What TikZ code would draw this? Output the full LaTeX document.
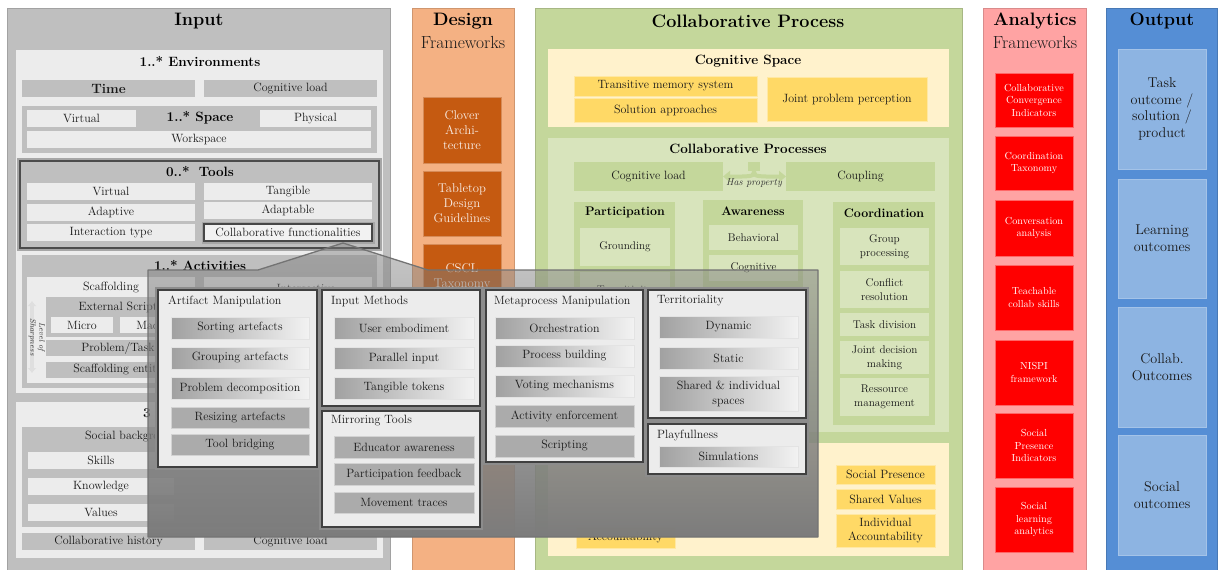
\documentclass[tikz,border=0pt]{standalone}
\usepackage{fontspec}
\usetikzlibrary{arrows.meta,fadings}
\definecolor{inbg}{HTML}{BFBFBF}
\definecolor{inlt}{HTML}{ECECEC}
\definecolor{ingr}{HTML}{BFBFBF}
\definecolor{desbg}{HTML}{F4B183}
\definecolor{desbox}{HTML}{C55A11}
\definecolor{colbg}{HTML}{C4D79B}
\definecolor{colbox}{HTML}{C4D79B}
\definecolor{collt}{HTML}{D8E4BC}
\definecolor{ylt}{HTML}{FFF2CC}
\definecolor{ybox}{HTML}{FFD966}
\definecolor{anbg}{HTML}{FFA3A3}
\definecolor{anbox}{HTML}{FF0000}
\definecolor{outbg}{HTML}{558ED5}
\definecolor{outbox}{HTML}{8DB4E2}
\definecolor{panelc}{HTML}{7C7C7C}
\tikzfading[name=panelfade, top color=transparent!58, middle color=transparent!3, bottom color=transparent!0]
\newcommand\fTitle{\fontsize{18}{21}\selectfont\bfseries}
\newcommand\fSub{\fontsize{17.5}{20}\selectfont}
\newcommand\fHead{\fontsize{13.5}{16}\selectfont\bfseries}
\newcommand\fHeadS{\fontsize{12.4}{15}\selectfont\bfseries}
\newcommand\fBody{\fontsize{12}{14}\selectfont}
\newcommand\fSmall{\fontsize{11.2}{14}\selectfont}
\newcommand\fPop{\fontsize{12}{15}\selectfont}
\newcommand\fRed{\fontsize{10.2}{12.5}\selectfont}
\newcommand\fOut{\fontsize{14.2}{16.8}\selectfont}
\newcommand\fDes{\fontsize{12.7}{15}\selectfont}
\newcommand\mkbox[7][]{%
  \pgfmathsetmacro\bxcx{(#3+#5)/2}\pgfmathsetmacro\bxcy{(#4+#6)/2}%
  \pgfmathsetmacro\bxw{#5-#3}\pgfmathsetmacro\bxh{#6-#4}%
  \node[bx,#1,minimum width=\bxw pt,minimum height=\bxh pt] (#2) at (\bxcx,\bxcy) {#7};}
\begin{document}
\begin{tikzpicture}[x=1pt,y=-1pt,
  bx/.style={inner sep=0pt,outer sep=0pt,align=center,text=black!90},
  lt/.style={fill=inlt,font=\fBody},
  gr/.style={fill=ingr,font=\fBody},
  popbox/.style={fill=gray!15,draw=black!75,line width=2.5pt,preaction={draw=black!45,line width=6.5pt}},
  gitem/.style={left color=gray!74,right color=gray!10,draw=gray!22,line width=0.8pt,font=\fPop},
  sitem/.style={fill=gray!66,draw=gray!35,line width=0.8pt,font=\fPop},
  phead/.style={anchor=west,inner sep=0pt,font=\fPop,text=black!90},
  yb/.style={fill=ybox,draw=ybox!60!white,line width=0.6pt,font=\fBody},
  gb/.style={fill=colbox,font=\fBody},
  gl/.style={fill=collt,font=\fSmall},
  redb/.style={fill=anbox,draw=anbox!60!white,line width=0.6pt,font=\fRed,text=white},
  outb/.style={fill=outbox,draw=outbox!80!white,line width=0.6pt,font=\fOut,text=black!90},
  desb/.style={fill=desbox,draw=desbox!70!white,line width=0.6pt,font=\fDes,text=white!90!desbox},
  ctitle/.style={font=\fTitle},
  csub/.style={font=\fSub,text=black!90}]
\useasboundingbox[fill=white] (0,0) rectangle (1218,570);

% ---------- columns ----------
\mkbox[fill=inbg,draw=inbg!85!black,line width=0.6pt]{input}{7}{8}{390}{578}{}
\mkbox[fill=desbg,draw=desbg!85!black,line width=0.6pt]{design}{412}{8}{514}{578}{}
\mkbox[fill=colbg,draw=colbg!85!black,line width=0.6pt]{collab}{535}{8}{962}{578}{}
\mkbox[fill=anbg,draw=anbg!85!black,line width=0.6pt]{analytics}{983}{8}{1086}{578}{}
\mkbox[fill=outbg,draw=outbg!85!black,line width=0.6pt]{output}{1106}{8}{1217}{578}{}
\node[ctitle] (inputT) at (199,21) {Input};
\node[ctitle] (designT) at (463,21) {Design};
\node[csub] (designS) at (463,42) {Frameworks};
\node[ctitle] (collabT) at (748,21) {Collaborative Process};
\node[ctitle] (anT) at (1035,21) {Analytics};
\node[csub] (anS) at (1035,42) {Frameworks};
\node[ctitle] (outT) at (1162,21) {Output};

% ---------- input ----------
\mkbox[fill=inlt]{env}{16}{50}{383}{393}{}
\node[font=\fHead] (envT) at (200,61) {1..* Environments};
\mkbox[fill=ingr,font=\fHead]{time}{22}{80}{195}{97}{Time}
\mkbox[gr]{envcl}{204}{80}{377}{97}{Cognitive load}
\mkbox[fill=ingr]{space}{22}{106}{377}{153}{}
\node[font=\fHead] (spaceT) at (200,118) {1..* Space};
\mkbox[lt]{spv}{27}{110}{136}{127}{Virtual}
\mkbox[lt]{spp}{260}{110}{371}{127}{Physical}
\mkbox[lt]{spw}{27}{131}{371}{148}{Workspace}
\mkbox[fill=ingr,draw=black!70,line width=2.5pt,preaction={draw=black!35,line width=5.5pt}]{tools}{20}{161}{379}{248}{}
\node[font=\fHead] (toolsT) at (200,172) {0..*\hspace{9pt}Tools};
\mkbox[lt]{tv}{27}{183}{195}{200}{Virtual}
\mkbox[lt]{tt}{204}{183}{372}{200}{Tangible}
\mkbox[lt]{ta}{27}{204}{195}{221}{Adaptive}
\mkbox[lt]{tab}{204}{202}{372}{219}{Adaptable}
\mkbox[lt]{tit}{27}{224}{195}{241}{Interaction type}
\mkbox[lt,fill=gray!10,draw=black!72,line width=2.5pt,preaction={draw=black!35,line width=5pt}]{tcf}{204}{224}{372}{241}{Collaborative functionalities}

\mkbox[fill=ingr]{act}{22}{255}{377}{388}{}
\node[font=\fHead] (actT) at (200,265) {1..* Activities};
\mkbox[fill=inlt]{scaf}{27}{277}{195}{383}{}
\node[font=\fBody,text=black!90] (scafT) at (111,288) {Scaffolding};
\mkbox[fill=ingr]{ext}{46}{297}{190}{337}{}
\node[font=\fBody,text=black!90] (extT) at (118,307) {External Script};
\mkbox[lt]{micro}{51}{317}{113}{333}{Micro}
\mkbox[lt]{macro}{120}{317}{185}{333}{Macro}
\mkbox[gr]{prob}{46}{340}{190}{356}{Problem/Task}
\mkbox[gr]{sent}{46}{362}{190}{378}{Scaffolding entity}
\coordinate (losT) at (32,301);
\coordinate (losB) at (32,373);
\draw[line width=3.5pt,gray!25,{Latex[length=5pt,width=9pt]}-{Latex[length=5pt,width=9pt]}] (losT) -- (losB);
\node[rotate=-90,font=\fontsize{8}{9}\selectfont\itshape,align=center,inner sep=0pt,text=black!80] (los) at (37,337) {Level of\\Sharpness};
\mkbox[fill=inlt]{inters}{204}{277}{372}{383}{}
\node[font=\fBody,text=black!90] (intersT) at (306,288) {Intersective};

\mkbox[fill=inlt]{part}{16}{402}{383}{558}{}
\node[font=\fHead] (partT) at (147,413) {3};
\mkbox[fill=ingr]{soc}{22}{427}{377}{527}{}
\node[font=\fBody,anchor=west,inner sep=0pt,text=black!90] (socT) at (85,437) {Social background};
\mkbox[lt]{skills}{28}{452}{174}{469}{Skills}
\mkbox[lt]{know}{28}{478}{174}{495}{Knowledge}
\mkbox[lt]{values}{28}{504}{174}{521}{Values}
\mkbox[gr]{colh}{22}{533}{195}{550}{Collaborative history}
\mkbox[gr]{pcl}{204}{533}{377}{550}{Cognitive load}

% ---------- design ----------
\mkbox[desb]{d1}{423}{97}{501}{163}{Clover\\Archi-\\tecture}
\mkbox[desb]{d2}{423}{171}{501}{236}{Tabletop\\Design\\Guidelines}
\mkbox[desb]{d3}{423}{244}{501}{309}{CSCL\\Taxonomy}

% ---------- collaborative process ----------
\mkbox[fill=ylt]{cogsp}{548}{49}{949}{127}{}
\node[font=\fHead] (cogspT) at (748,61) {Cognitive Space};
\mkbox[yb]{tms}{574}{76}{757}{96}{Transitive memory system}
\mkbox[yb]{sol}{574}{98}{757}{122}{Solution approaches}
\mkbox[yb]{jpp}{767}{77}{927}{121}{Joint problem perception}

\mkbox[fill=collt]{cprocs}{548}{138}{949}{432}{}
\node[font=\fHead] (cprocsT) at (748,149) {Collaborative Processes};
\mkbox[gb]{ccl}{574}{162}{723}{191}{Cognitive load}
\mkbox[gb]{coup}{786}{162}{935}{191}{Coupling}
\coordinate (hp) at (754,162);
\fill[colbox] (748,162) rectangle (760,171);
\draw[line width=4pt,colbox,-{Triangle[length=7pt,width=11pt]}] (754,168) .. controls (754,176) .. (742,176.5) -- (ccl.east);
\draw[line width=4pt,colbox,-{Triangle[length=7pt,width=11pt]}] (754,168) .. controls (754,176) .. (766,176.5) -- (coup.west);
\node[font=\fontsize{10}{12}\selectfont\itshape,text=black!80] (hpT) at (754,183) {Has property};

\mkbox[gb]{partc}{574}{202}{675}{425}{}
\node[font=\fHeadS] (partcT) at (625,212) {Participation};
\mkbox[gl]{ground}{580}{228}{670}{266}{Grounding}
\mkbox[gl]{trans}{580}{272}{670}{310}{Transitivity}
\mkbox[gb]{aware}{703}{200}{803}{425}{}
\node[font=\fHeadS] (awareT) at (753,211) {Awareness};
\mkbox[gl]{beh}{709}{225}{798}{250}{Behavioral}
\mkbox[gl]{cogn}{709}{255}{798}{281}{Cognitive}
\mkbox[gb]{coord}{833}{202}{935}{425}{}
\node[font=\fHeadS] (coordT) at (884,213) {Coordination};
\mkbox[gl]{gp}{840}{228}{929}{265}{Group\\processing}
\mkbox[gl]{cr}{840}{271}{929}{308}{Conflict\\resolution}
\mkbox[gl]{td}{840}{313}{929}{336}{Task division}
\mkbox[gl]{jdm}{840}{341}{929}{374}{Joint decision\\making}
\mkbox[gl]{rm}{840}{378}{929}{416}{Ressource\\management}

\mkbox[fill=ylt]{socsp}{548}{443}{949}{556}{}
\mkbox[yb]{spres}{836}{465}{935}{484}{Social Presence}
\mkbox[yb]{sval}{836}{489}{935}{509}{Shared Values}
\mkbox[yb]{iacc}{836}{514}{935}{547}{Individual\\Accountability}
\mkbox[yb]{acc}{576}{527}{675}{548}{Accountability}

% ---------- analytics ----------
\mkbox[redb]{a1}{995}{73}{1073}{127}{Collaborative\\Convergence\\Indicators}
\mkbox[redb]{a2}{995}{136}{1073}{190}{Coordination\\Taxonomy}
\mkbox[redb]{a3}{995}{200}{1073}{256}{Conversation\\analysis}
\mkbox[redb]{a4}{995}{265}{1073}{330}{Teachable\\collab skills}
\mkbox[redb]{a5}{995}{340}{1073}{405}{NISPI\\framework}
\mkbox[redb]{a6}{995}{413}{1073}{478}{Social\\Presence\\Indicators}
\mkbox[redb]{a7}{995}{487}{1073}{552}{Social\\learning\\analytics}

% ---------- output ----------
\mkbox[outb]{o1}{1118}{49}{1206}{169}{Task\\outcome /\\solution /\\product}
\mkbox[outb]{o2}{1118}{179}{1206}{298}{Learning\\outcomes}
\mkbox[outb]{o3}{1118}{307}{1206}{427}{Collab.\\Outcomes}
\mkbox[outb]{o4}{1118}{435}{1206}{555}{Social\\outcomes}

% ---------- zoom panel ----------
\coordinate (apex) at (343,243);
\coordinate (fl) at (258,270);
\coordinate (fr) at (428,270);
\coordinate (pnw) at (148,270);
\coordinate (pne) at (818,270);
\coordinate (pse) at (818,537);
\coordinate (psw) at (148,537);
\fill[panelc,path fading=panelfade] (pnw) -- (fl) -- (apex) -- (fr) -- (pne) -- (pse) -- (psw) -- cycle;
\draw[black!55,line width=1.3pt,line join=round] (pnw) -- (fl) -- (apex) -- (fr) -- (pne) -- (pse) -- (psw) -- cycle;

% Artifact Manipulation
\mkbox[popbox]{pam}{158}{290}{317}{467}{}
\node[phead] (pamT) at (168,301) {Artifact Manipulation};
\mkbox[gitem]{sa}{171}{317}{309}{339}{Sorting artefacts}
\mkbox[gitem]{ga}{171}{347}{309}{369}{Grouping artefacts}
\mkbox[gitem]{pdc}{171}{377}{309}{399}{Problem decomposition}
\mkbox[sitem]{ra}{171}{407}{309}{428}{Resizing artefacts}
\mkbox[sitem]{tb}{171}{434}{309}{455}{Tool bridging}
% Input Methods
\mkbox[popbox]{pim}{322}{290}{480}{406}{}
\node[phead] (pimT) at (331,301) {Input Methods};
\mkbox[gitem]{ue}{334}{317}{474}{339}{User embodiment}
\mkbox[gitem]{pinp}{334}{347}{474}{369}{Parallel input}
\mkbox[gitem]{ttok}{334}{377}{474}{399}{Tangible tokens}
% Mirroring Tools
\mkbox[popbox]{pmt}{322}{411}{480}{527}{}
\node[phead] (pmtT) at (331,421) {Mirroring Tools};
\mkbox[sitem]{ea}{334}{436}{474}{458}{Educator awareness}
\mkbox[sitem]{pf}{334}{463}{474}{485}{Participation feedback}
\mkbox[sitem]{mt}{334}{492}{474}{513}{Movement traces}
% Metaprocess Manipulation
\mkbox[popbox]{pmm}{486}{290}{643}{462}{}
\node[phead] (pmmT) at (494,301) {Metaprocess Manipulation};
\mkbox[gitem]{orch}{495}{317}{634}{339}{Orchestration}
\mkbox[gitem]{pbld}{495}{345}{634}{367}{Process building}
\mkbox[gitem]{vm}{495}{375}{634}{397}{Voting mechanisms}
\mkbox[sitem]{ae}{495}{405}{634}{427}{Activity enforcement}
\mkbox[sitem]{scr}{495}{435}{634}{457}{Scripting}
% Territoriality
\mkbox[popbox]{pter}{648}{290}{806}{418}{}
\node[phead] (pterT) at (657,301) {Territoriality};
\mkbox[gitem]{dyn}{659}{316}{798}{338}{Dynamic}
\mkbox[gitem]{stat}{659}{347}{798}{369}{Static}
\mkbox[gitem]{sis}{659}{376}{798}{411}{Shared \& individual\\spaces}
% Playfullness
\mkbox[popbox]{pplay}{648}{424}{806}{474}{}
\node[phead] (pplayT) at (657,435) {Playfullness};
\mkbox[gitem]{sim}{659}{446}{798}{467}{Simulations}
\end{tikzpicture}
\end{document}
